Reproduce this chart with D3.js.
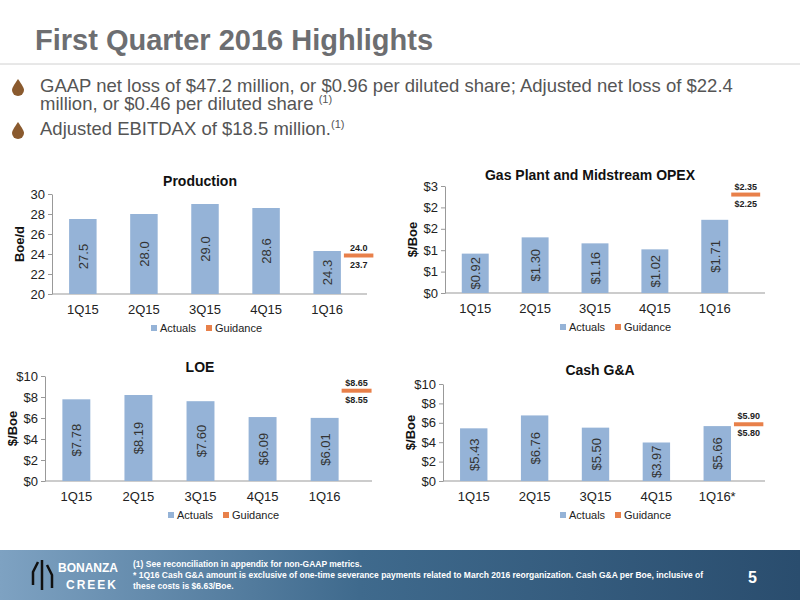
<!DOCTYPE html>
<html><head><meta charset="utf-8">
<script src="https://cdn.jsdelivr.net/npm/d3@7"></script>
<style>
body{margin:0;background:#fff;font-family:Arial,"Liberation Sans",sans-serif}
</style></head><body>
<svg id="slide" width="800" height="600"></svg>
<script>
// Chart data
const quarters = ['1Q15', '2Q15', '3Q15', '4Q15', '1Q16'];
const quartersGA = ['1Q15', '2Q15', '3Q15', '4Q15', '1Q16*'];
const production = [27.5, 28.0, 29.0, 28.6, 24.3];
const productionGuide = [24.0, 23.7];
const gasOpex = [0.92, 1.30, 1.16, 1.02, 1.71];
const gasOpexGuide = [2.35, 2.25];
const loe = [7.78, 8.19, 7.60, 6.09, 6.01];
const loeGuide = [8.65, 8.55];
const cashGA = [5.43, 6.76, 5.50, 3.97, 5.66];
const cashGAGuide = [5.90, 5.80];

const barColor = '#95b3d7', guideColor = '#e8804a', textColor = '#222';
const svg = d3.select('#slide');

// Header
svg.append('text').attr('x', 35).attr('y', 50).attr('fill', '#6d6e71')
  .style('font-size', '29px').style('font-weight', 'bold').text('First Quarter 2016 Highlights');
svg.append('line').attr('x1', 0).attr('x2', 800).attr('y1', 64).attr('y2', 64)
  .attr('stroke', '#d0d0d0').attr('stroke-width', 1);

const bullets = [
  {y: 92, lines: [['GAAP net loss of $47.2 million, or $0.96 per diluted share; Adjusted net loss of $22.4'], ['million, or $0.46 per diluted share ', '(1)']]},
  {y: 135, lines: [[' Adjusted EBITDAX of $18.5 million.', '(1)']]}
];
bullets.forEach(b => {
  svg.append('path')
    .attr('d', `M18,${b.y - 13} C14,${b.y - 7} 12,${b.y - 4} 12,${b.y - 2} A6,6 0 0 0 24,${b.y - 2} C24,${b.y - 4} 22,${b.y - 7} 18,${b.y - 13}Z`)
    .attr('fill', '#8a5a2e');
  b.lines.forEach((ln, i) => {
    const t = svg.append('text').attr('x', 40).attr('y', b.y + i * 18).attr('fill', '#555')
      .style('font-size', '18.5px');
    t.append('tspan').text(ln[0]);
    if (ln[1]) t.append('tspan').attr('dy', -7).style('font-size', '11px').text(ln[1]);
  });
});

function drawChart(cfg) {
  const g = svg.append('g');
  const y = d3.scaleLinear().domain(cfg.domain).range([cfg.bottom, cfg.top]);
  const x = d3.scaleBand().domain(cfg.cats).range([cfg.left, cfg.right]).paddingInner(0.55).paddingOuter(0.28);

  const yAxis = d3.axisLeft(y).tickValues(cfg.ticks).tickFormat(cfg.fmt).tickSize(4).tickSizeOuter(0);
  const ya = g.append('g').attr('transform', `translate(${cfg.left},0)`).call(yAxis);
  ya.selectAll('text').style('font-size', '13px').attr('fill', textColor);
  ya.selectAll('line,path').attr('stroke', '#999');

  g.append('line').attr('x1', cfg.left).attr('x2', cfg.axisEnd)
    .attr('y1', y(cfg.domain[0])).attr('y2', y(cfg.domain[0])).attr('stroke', '#999');

  g.selectAll('.bar').data(cfg.values).join('rect')
    .attr('x', (d, i) => x(cfg.cats[i]))
    .attr('width', x.bandwidth())
    .attr('y', d => y(d))
    .attr('height', d => y(cfg.domain[0]) - y(d))
    .attr('fill', barColor);

  g.selectAll('.lbl').data(cfg.values).join('text')
    .attr('transform', (d, i) => `translate(${x(cfg.cats[i]) + x.bandwidth() / 2 + 5},${(y(d) + y(cfg.domain[0])) / 2}) rotate(-90)`)
    .attr('text-anchor', 'middle').attr('fill', '#333').style('font-size', '13px')
    .text(cfg.label);

  g.selectAll('.cat').data(cfg.cats).join('text')
    .attr('x', d => x(d) + x.bandwidth() / 2).attr('y', cfg.bottom + 20)
    .attr('text-anchor', 'middle').attr('fill', textColor).style('font-size', '13px').text(d => d);

  // Guidance marker
  const gv = (cfg.guide[0] + cfg.guide[1]) / 2;
  const gx = x(cfg.cats[4]) + x.bandwidth() + 3;
  g.append('line').attr('x1', gx).attr('x2', gx + x.bandwidth() + 2)
    .attr('y1', y(gv)).attr('y2', y(gv)).attr('stroke', guideColor).attr('stroke-width', 4);
  g.append('text').attr('x', gx + x.bandwidth() / 2 + 1).attr('y', y(gv) - 5).attr('text-anchor', 'middle')
    .style('font-size', '9px').style('font-weight', 'bold').attr('fill', '#222').text(cfg.gfmt(cfg.guide[0]));
  g.append('text').attr('x', gx + x.bandwidth() / 2 + 1).attr('y', y(gv) + 12).attr('text-anchor', 'middle')
    .style('font-size', '9px').style('font-weight', 'bold').attr('fill', '#222').text(cfg.gfmt(cfg.guide[1]));

  // Title and y label
  g.append('text').attr('x', cfg.titleX).attr('y', cfg.titleY).attr('text-anchor', 'middle')
    .style('font-size', '14px').style('font-weight', 'bold').attr('fill', '#111').text(cfg.title);
  g.append('text').attr('transform', `translate(${cfg.left - 28},${(cfg.top + cfg.bottom) / 2}) rotate(-90)`)
    .attr('text-anchor', 'middle').style('font-size', '13px').style('font-weight', 'bold').attr('fill', '#111').text(cfg.ylabel);

  // Legend
  const lx = cfg.legendX, ly = cfg.bottom + 38;
  g.append('rect').attr('x', lx).attr('y', ly - 7).attr('width', 6).attr('height', 6).attr('fill', barColor);
  g.append('text').attr('x', lx + 9).attr('y', ly).style('font-size', '11px').attr('fill', textColor).text('Actuals');
  g.append('rect').attr('x', lx + 55).attr('y', ly - 7).attr('width', 6).attr('height', 6).attr('fill', guideColor);
  g.append('text').attr('x', lx + 64).attr('y', ly).style('font-size', '11px').attr('fill', textColor).text('Guidance');
}

const dollar0 = d => '$' + d3.format('.0f')(d);
const dollar2 = d => '$' + d.toFixed(2);

drawChart({cats: quarters, values: production, guide: productionGuide, domain: [20, 30], ticks: [20, 22, 24, 26, 28, 30],
  fmt: d => d, label: d => d.toFixed(1), gfmt: d => d.toFixed(1), left: 52, right: 358, axisEnd: 367, top: 194, bottom: 294,
  title: 'Production', titleX: 200, titleY: 186, ylabel: 'Boe/d', legendX: 151});

drawChart({cats: quarters, values: gasOpex, guide: gasOpexGuide, domain: [0, 2.5], ticks: [0, 0.5, 1, 1.5, 2, 2.5],
  fmt: dollar0, label: dollar2, gfmt: dollar2, left: 445, right: 745, axisEnd: 765, top: 186, bottom: 293,
  title: 'Gas Plant and Midstream OPEX', titleX: 590, titleY: 180, ylabel: '$/Boe', legendX: 560});

drawChart({cats: quarters, values: loe, guide: loeGuide, domain: [0, 10], ticks: [0, 2, 4, 6, 8, 10],
  fmt: dollar0, label: dollar2, gfmt: dollar2, left: 45, right: 356, axisEnd: 372, top: 376, bottom: 481,
  title: 'LOE', titleX: 200, titleY: 372, ylabel: '$/Boe', legendX: 168});

drawChart({cats: quartersGA, values: cashGA, guide: cashGAGuide, domain: [0, 10], ticks: [0, 2, 4, 6, 8, 10],
  fmt: dollar0, label: dollar2, gfmt: dollar2, left: 443, right: 748, axisEnd: 765, top: 384, bottom: 481,
  title: 'Cash G&A', titleX: 600, titleY: 375, ylabel: '$/Boe', legendX: 560});

// Footer band
const grad = svg.append('defs').append('linearGradient').attr('id', 'foot');
grad.append('stop').attr('offset', '0%').attr('stop-color', '#7ea2c2');
grad.append('stop').attr('offset', '45%').attr('stop-color', '#3f6a8d');
grad.append('stop').attr('offset', '100%').attr('stop-color', '#2a4d6e');
svg.append('rect').attr('x', 0).attr('y', 550).attr('width', 800).attr('height', 50).attr('fill', 'url(#foot)');
svg.append('path').attr('d', 'M38,562 L33,572 L33,585 M42,560 L42,590 M47,565 L52,575 L52,588')
  .attr('stroke', '#111').attr('stroke-width', 2.5).attr('fill', 'none');
svg.append('text').attr('x', 58).attr('y', 572).attr('fill', '#fff').style('font-size', '12px')
  .attr('textLength', 60).style('font-weight', 'bold').text('BONANZA');
svg.append('text').attr('x', 118).attr('y', 589).attr('fill', '#fff').style('font-size', '12px')
  .attr('text-anchor', 'end').style('font-weight', 'bold').style('letter-spacing', '2px').text('CREEK');
const notes = ['(1)   See reconciliation in appendix for non-GAAP metrics.',
  '* 1Q16 Cash G&A amount is exclusive of one-time severance payments related to March 2016 reorganization.  Cash G&A per Boe, inclusive of',
  'these costs is $6.63/Boe.'];
notes.forEach((n, i) => svg.append('text').attr('x', 133).attr('y', 567 + i * 11).attr('fill', '#fff')
  .style('font-size', '8.5px').style('font-weight', 'bold').text(n));
svg.append('text').attr('x', 748).attr('y', 583).attr('fill', '#fff').style('font-size', '16px')
  .style('font-weight', 'bold').text('5');
</script>
</body></html>
